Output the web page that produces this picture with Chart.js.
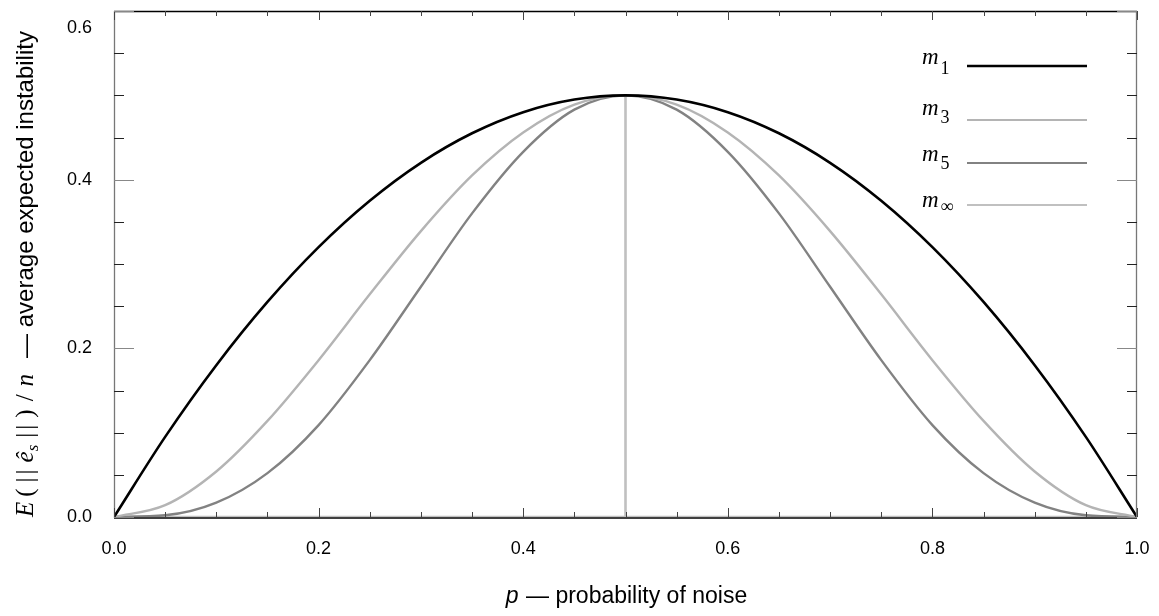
<!DOCTYPE html>
<html>
<head>
<meta charset="utf-8">
<script src="https://cdn.jsdelivr.net/npm/chart.js@4/dist/chart.umd.min.js"></script>
<style>
html,body{margin:0;padding:0;background:#fff;}
#wrap{width:1159px;height:616px;position:relative;}
</style>
</head>
<body>
<div id="wrap"><canvas id="c"></canvas></div>
<script>
// ---- data ----
const pValues = [0,0.05,0.1,0.15,0.2,0.25,0.3,0.35,0.4,0.45,0.5,0.55,0.6,0.65,0.7,0.75,0.8,0.85,0.9,0.95,1.0];
const m1Values = [0,0.095,0.18,0.255,0.32,0.375,0.42,0.455,0.48,0.495,0.5,0.495,0.48,0.455,0.42,0.375,0.32,0.255,0.18,0.095,0];
const m3Values = [0,0.014,0.054,0.114,0.186,0.264,0.339,0.405,0.456,0.489,0.5,0.489,0.456,0.405,0.339,0.264,0.186,0.114,0.054,0.014,0];
const m5Values = [0,0.002,0.017,0.052,0.109,0.186,0.273,0.360,0.433,0.483,0.5,0.483,0.433,0.360,0.273,0.186,0.109,0.052,0.017,0.002,0];
const mInfP = [0,0.5,0.5,0.5,1.0];
const mInfValues = [0,0,0.5,0,0];
const seriesNames = ['1','3','5','\u221E'];
const xTickValues = [0,0.2,0.4,0.6,0.8,1.0];
const xTickLabels = ['0.0','0.2','0.4','0.6','0.8','1.0'];
const yTickValues = [0,0.2,0.4,0.6];
const yTickLabels = ['0.0','0.2','0.4','0.6'];

const toPts = (xs, ys) => xs.map((x,i)=>({x:x, y:ys[i]}));

// ---- plugins ----
function seg(ctx,x1,y1,x2,y2,color,w){
  ctx.beginPath();ctx.strokeStyle=color;ctx.lineWidth=w;ctx.moveTo(x1,y1);ctx.lineTo(x2,y2);ctx.stroke();
}
const framePlugin = {
  id:'frame',
  afterDatasetsDraw(chart){
    const ctx=chart.ctx, a=chart.chartArea, xs=chart.scales.x, ys=chart.scales.y;
    ctx.save();
    ctx.lineCap='butt';
    seg(ctx,a.left,a.bottom+1,a.right,a.bottom+1,'#000',1.3);
    seg(ctx,a.left,a.top+0.5,a.right,a.top+0.5,'#000',1.3);
    seg(ctx,a.left+0.5,a.top,a.left+0.5,a.bottom+1,'#777',1.3);
    seg(ctx,a.right-0.5,a.top,a.right-0.5,a.bottom+1,'#777',1.3);
    for(let i=0;i<=20;i++){
      const v=i*0.05, major=(i%4===0), px=Math.round(xs.getPixelForValue(v))+0.5;
      const L=major?9:5;
      seg(ctx,px,a.bottom,px,a.bottom-L,'#444',1);
      seg(ctx,px,a.top,px,a.top+L,'#444',1);
    }
    for(let i=0;i<=12;i++){
      const v=i*0.05, major=(i%4===0), py=Math.round(ys.getPixelForValue(v))+0.5;
      const L=major?20:10, col=major?'#888':'#222';
      seg(ctx,a.left,py,a.left+L,py,col,1);
      seg(ctx,a.right,py,a.right-L,py,col,1);
    }
    // y tick labels (kept inside the canvas top like the reference)
    ctx.fillStyle='#000';
    ctx.font='18px "Liberation Sans"';
    ctx.textAlign='right';
    ctx.textBaseline='middle';
    yTickValues.forEach((v,i)=>{
      const py=Math.max(ys.getPixelForValue(v),28);
      ctx.fillText(yTickLabels[i],a.left-22,py);
    });
    ctx.restore();
  }
};

const legendPlugin = {
  id:'customLegend',
  afterDraw(chart){
    const ctx=chart.ctx;
    const lineY=[66,120,163,205], baseY=[64,115,161,207], subY=[74,123,169,212];
    ctx.save();
    chart.data.datasets.forEach((ds,i)=>{
      ctx.fillStyle='#000';
      ctx.textBaseline='alphabetic';
      ctx.font='italic 23px "Liberation Serif"';
      ctx.fillText('m',922,baseY[i]);
      const w=ctx.measureText('m').width;
      ctx.font='18px "Liberation Serif"';
      ctx.fillText(seriesNames[i],922+w+2,subY[i]);
      seg(ctx,967,lineY[i],1087,lineY[i],ds.borderColor,i===0?2.6:2.2);
    });
    ctx.restore();
  }
};

const titlePlugin = {
  id:'titles',
  afterDraw(chart){
    const ctx=chart.ctx;
    ctx.save();
    ctx.fillStyle='#000';
    ctx.textBaseline='alphabetic';
    // x title
    const fI='italic 23px "Liberation Sans"', fN='23px "Liberation Sans"';
    const t1='p', t2=' \u2014 probability of noise';
    ctx.font=fI; const w1=ctx.measureText(t1).width;
    ctx.font=fN; const w2=ctx.measureText(t2).width;
    let x0=626-(w1+w2)/2;
    ctx.font=fI; ctx.fillText(t1,x0,603);
    ctx.font=fN; ctx.fillText(t2,x0+w1+1,603);
    // y title (rotated)
    ctx.translate(33,517);
    ctx.rotate(-Math.PI/2);
    const serifI='italic 25px "Liberation Serif"', serif='25px "Liberation Serif"', sub='italic 17px "Liberation Serif"';
    const items=[
      [serifI,'E',0,5],[serif,'(',0,6],[serif,'|',0,3],[serif,'|',0,7],
      [serifI,'\u00EA',0,0],[sub,'s',5,7],[serif,'|',0,3],[serif,'|',0,7],
      [serif,')',0,8],[serif,'/',0,8],[serifI,'n',0,0]
    ];
    let cx=0;
    items.forEach(it=>{
      ctx.font=it[0];
      ctx.fillText(it[1],cx,it[2]);
      cx+=ctx.measureText(it[1]).width+it[3];
    });
    cx+=16;
    ctx.font='24px "Liberation Sans"';
    ctx.fillText('\u2014 average expected instability',cx,0);
    ctx.restore();
  }
};

new Chart(document.getElementById('c'),{
  type:'line',
  data:{
    datasets:[
      {label:'m1',data:toPts(pValues,m1Values),borderColor:'#000000',borderWidth:2.6,pointRadius:0,cubicInterpolationMode:'monotone',fill:false},
      {label:'m3',data:toPts(pValues,m3Values),borderColor:'#b4b4b4',borderWidth:2.4,pointRadius:0,cubicInterpolationMode:'monotone',fill:false},
      {label:'m5',data:toPts(pValues,m5Values),borderColor:'#828282',borderWidth:2.4,pointRadius:0,cubicInterpolationMode:'monotone',fill:false},
      {label:'minf',data:toPts(mInfP,mInfValues),borderColor:'#c0c0c0',borderWidth:2.6,pointRadius:0,tension:0,fill:false}
    ]
  },
  options:{
    responsive:true,
    maintainAspectRatio:false,
    animation:false,
    events:[],
    layout:{padding:{top:11,right:22,left:0,bottom:0}},
    plugins:{legend:{display:false},tooltip:{enabled:false}},
    scales:{
      x:{
        type:'linear',min:0,max:1,
        grid:{display:false,drawTicks:false},
        border:{display:false},
        afterBuildTicks:s=>{s.ticks=xTickValues.map(v=>({value:v}));},
        afterFit:s=>{s.height=99;s.paddingLeft=0;s.paddingRight=0;s.paddingTop=0;s.paddingBottom=0;},
        ticks:{padding:21,color:'#000',font:{family:'Liberation Sans',size:18},maxRotation:0,
          callback:(v,i)=>xTickLabels[i]}
      },
      y:{
        type:'linear',min:0,max:0.6,
        grid:{display:false,drawTicks:false},
        border:{display:false},
        afterBuildTicks:s=>{s.ticks=yTickValues.map(v=>({value:v}));},
        afterFit:s=>{s.width=114;s.paddingLeft=0;s.paddingRight=0;s.paddingTop=0;s.paddingBottom=0;},
        ticks:{display:false}
      }
    }
  },
  plugins:[framePlugin,legendPlugin,titlePlugin]
});
</script>
</body>
</html>
